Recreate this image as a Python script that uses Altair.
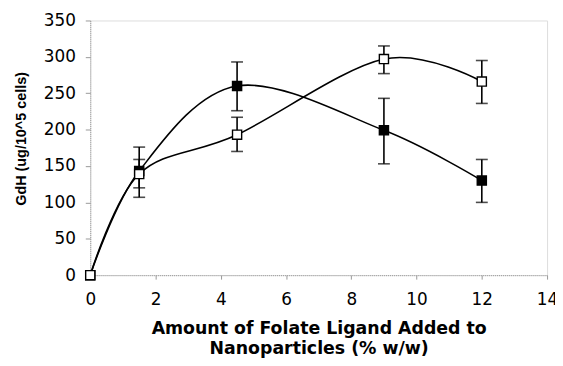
import altair as alt
import pandas as pd

x_vals = [0, 1.5, 4.5, 9, 12]
filled_y = [0, 143, 260, 199, 130]
filled_lo = [0, 107, 226, 153, 100]
filled_hi = [0, 176, 293, 243, 159]
open_y = [0, 139, 193, 297, 266]
open_lo = [0, 120, 170, 277, 236]
open_hi = [0, 159, 217, 315, 295]

rows = []
for i, x in enumerate(x_vals):
    rows.append(dict(x=x, y=filled_y[i], lo=filled_lo[i], hi=filled_hi[i], s="filled"))
    rows.append(dict(x=x, y=open_y[i], lo=open_lo[i], hi=open_hi[i], s="open"))
df = pd.DataFrame(rows)
err = df[df.x > 0]

FONT = "DejaVu Sans"

xs = alt.Scale(domain=[0, 14], nice=False, zero=False)
ys = alt.Scale(domain=[0, 350], nice=False)

xax = alt.Axis(values=list(range(0, 15, 2)), title=["Amount of Folate Ligand Added to", "Nanoparticles (% w/w)"],
               labelFontSize=17, titleFontSize=17.5, titleFont=FONT, labelFont=FONT, titleFontWeight="bold",
               labelColor="black", titleColor="black", tickSize=4, tickColor="#999", domainColor="#999",
               domainDash=[1, 1], labelPadding=13, titlePadding=12, grid=False, titleLineHeight=20,
               labelOverlap=False, labelFlush=False)
yax = alt.Axis(values=list(range(0, 351, 50)), title="GdH (ug/10^5 cells)",
               labelFontSize=17, titleFontSize=14.5, titleFont="Liberation Sans", labelFont=FONT,
               titleFontWeight="bold", labelColor="black", titleColor="black", tickSize=5, tickColor="#999",
               domainColor="#999", domainDash=[1, 1], labelPadding=10, titlePadding=15, grid=False,
               labelOverlap=False, labelFlush=False, titleY=119)

base = alt.Chart(df)
X = alt.X("x:Q", scale=xs, axis=xax)

lines = base.mark_line(interpolate="cardinal", color="black", strokeWidth=1.6).encode(
    x=X, y=alt.Y("y:Q", scale=ys, axis=yax), detail="s:N")

ebase = alt.Chart(err)
erule = ebase.mark_rule(color="black", strokeWidth=1.6).encode(
    x=X, y=alt.Y("lo:Q", scale=ys, axis=yax), y2="hi:Q")
cap_lo = ebase.mark_tick(orient="horizontal", size=12, thickness=1.6, color="black").encode(
    x=X, y=alt.Y("lo:Q", scale=ys, axis=yax))
cap_hi = ebase.mark_tick(orient="horizontal", size=12, thickness=1.6, color="black").encode(
    x=X, y=alt.Y("hi:Q", scale=ys, axis=yax))

pts = base.mark_square(size=85, strokeWidth=1.4, opacity=1).encode(
    x=X, y=alt.Y("y:Q", scale=ys, axis=yax),
    fill=alt.Fill("s:N", scale=alt.Scale(domain=["filled", "open"], range=["black", "white"]), legend=None),
    stroke=alt.value("black"),
)

chart = alt.layer(lines, erule, cap_lo, cap_hi, pts).properties(
    width=461, height=257,
    autosize=alt.AutoSizeParams(type="none"),
    padding={"left": 83, "top": 11, "right": 8, "bottom": 82},
).configure_view(stroke="#999", strokeDash=[1, 1], strokeWidth=1).configure(background="white")

chart.save("out.html", embed_options={"renderer": "svg", "actions": False})
